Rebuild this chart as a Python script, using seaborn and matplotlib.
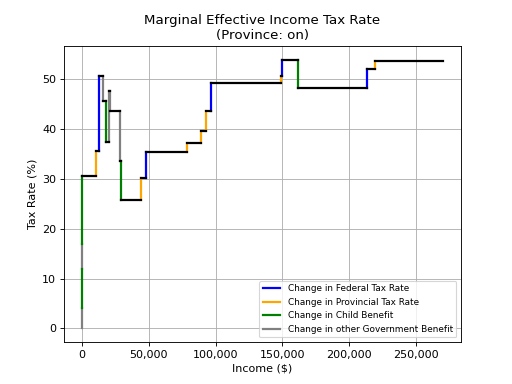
import pandas as pd
import seaborn as sns
import matplotlib.pyplot as plt
from matplotlib.lines import Line2D
from matplotlib.ticker import StrMethodFormatter

# income where the marginal rate changes, the new rate and what caused the change
income = [0, 0, 0, 0, 10400, 12900, 15400, 17900, 19900, 20900, 28300, 28800,
          44500, 48200, 78600, 89000, 92500, 96500, 149000, 150000, 161400,
          213600, 219000]
rate = [4.0, 12.0, 17.0, 30.6, 35.6, 50.7, 45.6, 37.5, 47.6, 43.7, 33.7, 25.7,
        30.1, 35.5, 37.3, 39.7, 43.6, 49.3, 50.6, 54.0, 48.3, 52.1, 53.7]
cause = ["other", "child", "other", "child", "prov", "fed", "other", "child",
         "other", "other", "other", "child", "prov", "fed", "prov", "prov",
         "prov", "fed", "prov", "fed", "child", "fed", "prov"]
start_rate = 0.0
max_income = 270000

labels = {
    "fed": "Change in Federal Tax Rate",
    "prov": "Change in Provincial Tax Rate",
    "child": "Change in Child Benefit",
    "other": "Change in other Government Benefit",
}
colors = {"fed": "blue", "prov": "orange", "child": "green", "other": "gray"}

vert_rows = []
horiz_rows = []
prev = start_rate
for i in range(len(income)):
    vert_rows.append((i, income[i], prev, cause[i]))
    vert_rows.append((i, income[i], rate[i], cause[i]))
    end = income[i + 1] if i + 1 < len(income) else max_income
    horiz_rows.append((i, income[i], rate[i]))
    horiz_rows.append((i, end, rate[i]))
    prev = rate[i]

vert = pd.DataFrame(vert_rows, columns=["seg", "income", "rate", "cause"])
horiz = pd.DataFrame(horiz_rows, columns=["seg", "income", "rate"])

fig, ax = plt.subplots(figsize=(6.4, 4.8), dpi=80)
sns.lineplot(data=vert, x="income", y="rate", hue="cause", units="seg",
             estimator=None, sort=False, palette=colors, lw=2, ax=ax,
             legend=False)
sns.lineplot(data=horiz, x="income", y="rate", units="seg", estimator=None,
             sort=False, color="black", lw=2, ax=ax, legend=False)

ax.grid(True)
ax.xaxis.set_major_formatter(StrMethodFormatter("{x:,.0f}"))
ax.set_title("Marginal Effective Income Tax Rate\n(Province: on)")
ax.set_xlabel("Income ($)")
ax.set_ylabel("Tax Rate (%)")

handles = [Line2D([0], [0], color=colors[k], lw=2) for k in labels]
ax.legend(handles, list(labels.values()), loc="lower right", fontsize=8)

fig.savefig("out.png", dpi=80)
